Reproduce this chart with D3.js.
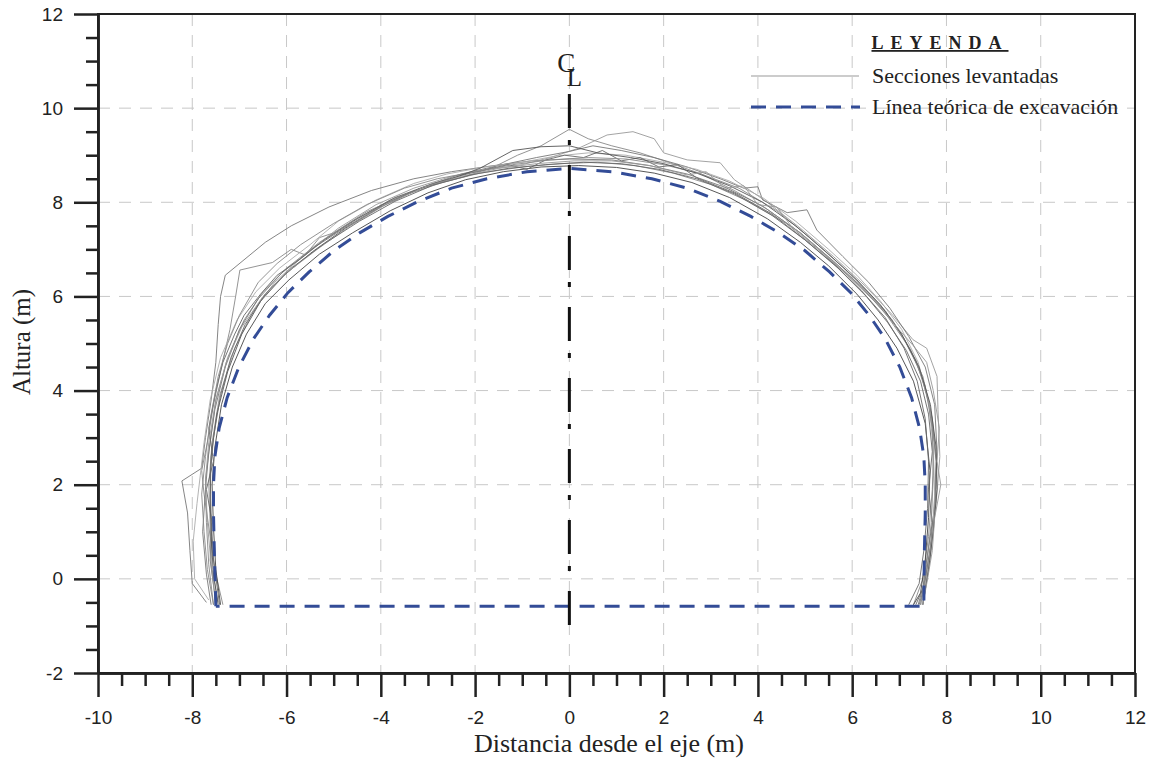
<!DOCTYPE html>
<html>
<head>
<meta charset="utf-8">
<script src="https://cdn.jsdelivr.net/npm/d3@7"></script>
<style>
  body { margin: 0; background: #fff; }
  .tick text { font-family: "Liberation Sans", Arial, sans-serif; font-size: 19px; fill: #222; }
  .axis path, .axis line { stroke: #222; stroke-width: 2.5; }
  .serif { font-family: "Liberation Serif", "Times New Roman", serif; fill: #222; }
</style>
</head>
<body>
<svg id="plot" width="1152" height="759"></svg>
<script>
// axis ticks
var xMajor = [-10, -8, -6, -4, -2, 0, 2, 4, 6, 8, 10, 12];
var yMajor = [-2, 0, 2, 4, 6, 8, 10, 12];
var minorStep = 0.5;

// theoretical excavation line
var theoretical = [
  [-7.5, -0.58], [-7.53, 0.5], [-7.55, 1.4], [-7.55, 2.0], [-7.52, 2.6], [-7.43, 3.2],
  [-7.26, 3.85], [-7.01, 4.5], [-6.7, 5.1], [-6.36, 5.6], [-5.97, 6.08], [-5.52, 6.52],
  [-5.0, 6.97], [-4.45, 7.35], [-3.85, 7.7], [-3.2, 8.02], [-2.5, 8.3], [-1.75, 8.5],
  [-0.9, 8.65], [0, 8.72], [0.9, 8.65], [1.75, 8.5], [2.5, 8.3], [3.2, 8.02],
  [3.85, 7.7], [4.45, 7.35], [5.0, 6.97], [5.52, 6.52], [5.97, 6.08], [6.36, 5.6],
  [6.7, 5.1], [7.01, 4.5], [7.26, 3.85], [7.43, 3.2], [7.52, 2.6], [7.55, 2.0],
  [7.55, 1.4], [7.53, 0.5], [7.52, -0.58], [-7.5, -0.58]
];

// surveyed sections
var s1 = [[-7.7,-0.5],[-8.0,-0.1],[-8.05,0.6],[-8.1,1.4],[-8.22,2.08],[-7.8,2.35],[-7.72,3.0],[-7.6,3.8],[-7.5,4.6],[-7.45,5.4],[-7.4,6.0],[-7.3,6.45],[-6.45,7.15],[-5.9,7.5],[-5.1,7.9],[-4.2,8.25],[-3.3,8.5],[-2.5,8.65],[-1.6,8.78],[-0.8,8.88],[0.0,8.92],[0.9,8.9],[1.7,8.78],[2.5,8.6],[3.3,8.32],[4.1,7.92],[4.9,7.35],[5.6,6.75],[6.2,6.2],[6.7,5.7],[7.1,5.1],[7.45,4.4],[7.68,3.5],[7.78,2.5],[7.74,1.5],[7.64,0.5],[7.52,-0.2],[7.42,-0.55]];
var s2 = [[-7.35,-0.55],[-7.5,0.1],[-7.62,0.9],[-7.75,1.8],[-7.8,2.3],[-7.68,2.9],[-7.55,3.7],[-7.38,4.5],[-7.2,5.3],[-7.08,6.0],[-6.99,6.56],[-6.3,6.72],[-5.9,7.0],[-5.6,6.88],[-5.3,7.25],[-5.0,7.35],[-4.3,7.8],[-3.5,8.15],[-2.7,8.42],[-1.9,8.62],[-1.0,8.75],[-0.2,8.82],[0.6,8.85],[1.4,8.78],[2.2,8.62],[3.0,8.38],[3.8,8.02],[4.6,7.55],[5.3,6.98],[5.9,6.45],[6.45,5.92],[6.95,5.35],[7.35,4.65],[7.62,3.8],[7.74,2.9],[7.7,1.9],[7.62,0.9],[7.5,0.0],[7.3,-0.55]];
var s3 = [[-7.55,-0.55],[-7.65,0.3],[-7.7,1.2],[-7.72,2.1],[-7.62,2.9],[-7.5,3.8],[-7.25,4.7],[-6.9,5.5],[-6.5,6.1],[-6.0,6.6],[-5.3,7.15],[-4.6,7.6],[-3.8,8.05],[-3.0,8.35],[-2.2,8.55],[-1.6,8.75],[-1.1,9.0],[-0.6,9.2],[0.0,9.55],[0.4,9.35],[0.9,9.2],[1.5,9.05],[2.1,8.85],[2.8,8.6],[3.5,8.25],[4.2,7.85],[4.9,7.35],[5.6,6.75],[6.2,6.2],[6.7,5.65],[7.15,5.0],[7.5,4.3],[7.7,3.4],[7.8,2.4],[7.75,1.4],[7.65,0.4],[7.5,-0.55]];
var s4 = [[-7.45,-0.5],[-7.58,0.2],[-7.62,1.1],[-7.65,2.0],[-7.58,2.9],[-7.42,3.9],[-7.1,4.9],[-6.7,5.7],[-6.25,6.3],[-5.6,6.9],[-4.9,7.45],[-4.1,7.95],[-3.3,8.3],[-2.5,8.55],[-1.7,8.7],[-1.0,8.8],[-0.4,8.95],[0.2,9.15],[0.8,9.43],[1.35,9.5],[1.8,9.35],[2.0,9.05],[2.5,8.9],[3.2,8.84],[3.5,8.48],[4.2,8.0],[4.9,7.45],[5.6,6.85],[6.3,6.2],[6.86,5.6],[7.29,5.08],[7.58,4.9],[7.8,4.3],[7.82,3.6],[7.86,2.6],[7.78,1.6],[7.65,0.6],[7.55,-0.1],[7.45,-0.55]];
var s5 = [[-7.6,-0.55],[-7.7,0.1],[-7.78,1.0],[-7.72,1.9],[-7.65,2.7],[-7.52,3.6],[-7.3,4.5],[-7.0,5.3],[-6.6,5.95],[-6.1,6.5],[-5.4,7.05],[-4.7,7.5],[-3.9,7.98],[-3.1,8.32],[-2.3,8.6],[-1.5,8.78],[-0.7,8.95],[0.0,9.08],[0.5,9.2],[1.1,9.1],[1.8,8.95],[2.5,8.75],[3.2,8.5],[3.7,8.3],[4.0,8.33],[4.1,8.05],[4.62,7.78],[5.04,7.84],[5.25,7.41],[5.8,6.85],[6.35,6.3],[6.8,5.75],[7.2,5.15],[7.55,4.5],[7.75,3.7],[7.8,2.7],[7.76,1.7],[7.68,0.8],[7.55,0.0],[7.4,-0.55]];
var s6 = [[-7.4,-0.55],[-7.5,0.2],[-7.55,1.1],[-7.58,2.0],[-7.52,2.8],[-7.38,3.7],[-7.15,4.5],[-6.85,5.2],[-6.45,5.85],[-5.95,6.35],[-5.3,6.9],[-4.6,7.35],[-3.8,7.82],[-3.0,8.2],[-2.2,8.48],[-1.4,8.65],[-0.6,8.75],[0.2,8.78],[1.0,8.74],[1.8,8.62],[2.6,8.42],[3.4,8.1],[4.2,7.65],[4.9,7.15],[5.5,6.65],[6.1,6.05],[6.55,5.5],[6.95,4.9],[7.3,4.2],[7.55,3.3],[7.65,2.3],[7.62,1.3],[7.55,0.4],[7.45,-0.3],[7.3,-0.55]];
var s7 = [[-7.65,-0.45],[-7.95,0.0],[-7.98,0.8],[-7.9,1.6],[-7.83,2.2],[-7.75,2.9],[-7.62,3.8],[-7.4,4.7],[-7.05,5.5],[-6.65,6.1],[-6.15,6.6],[-5.5,7.1],[-4.9,7.6],[-4.1,8.05],[-3.3,8.4],[-2.6,8.6],[-1.8,8.75],[-1.0,8.85],[-0.3,8.98],[0.4,9.05],[1.2,9.0],[2.0,8.85],[2.7,8.7],[3.4,8.45],[4.1,8.1],[4.8,7.6],[5.5,7.0],[6.1,6.45],[6.6,5.9],[7.05,5.3],[7.4,4.6],[7.62,3.8],[7.72,2.8],[7.75,1.8],[7.7,0.9],[7.6,0.1],[7.48,-0.55]];
var s8 = [[-7.5,-0.5],[-7.62,0.4],[-7.58,1.2],[-7.7,1.9],[-7.55,2.5],[-7.65,3.2],[-7.5,4.0],[-7.35,4.6],[-7.1,5.2],[-6.9,5.6],[-6.55,6.05],[-6.2,6.45],[-5.7,6.8],[-5.2,7.2],[-4.5,7.65],[-3.7,8.1],[-2.9,8.4],[-2.1,8.62],[-1.3,8.8],[-0.9,8.7],[-0.5,8.9],[-0.1,9.0],[0.3,8.95],[0.7,9.1],[1.1,8.88],[1.5,8.95],[1.9,8.75],[2.3,8.8],[2.7,8.52],[3.5,8.2],[4.3,7.75],[5.0,7.2],[5.7,6.6],[6.3,6.0],[6.75,5.45],[7.15,4.85],[7.45,4.2],[7.62,3.5],[7.7,2.7],[7.62,1.9],[7.7,1.2],[7.58,0.4],[7.5,-0.2],[7.35,-0.55]];
var s9 = [[-7.55,-0.55],[-7.68,0.2],[-7.75,1.0],[-7.8,1.8],[-7.72,2.6],[-7.6,3.5],[-7.45,4.3],[-7.25,5.0],[-7.0,5.6],[-6.6,6.3],[-6.2,6.7],[-5.7,7.1],[-5.0,7.55],[-4.3,7.95],[-3.5,8.3],[-2.8,8.5],[-2.0,8.65],[-1.2,8.8],[-0.4,8.9],[0.4,8.95],[1.2,8.92],[2.0,8.8],[2.8,8.6],[3.6,8.3],[4.4,7.82],[5.1,7.25],[5.8,6.62],[6.35,6.08],[6.85,5.5],[7.25,4.85],[7.55,4.1],[7.7,3.2],[7.72,2.2],[7.68,1.2],[7.58,0.3],[7.45,-0.55]];
var s10 = [[-7.45,-0.55],[-7.55,0.1],[-7.6,0.9],[-7.62,1.8],[-7.6,2.6],[-7.48,3.5],[-7.25,4.4],[-6.95,5.2],[-6.55,5.9],[-6.05,6.45],[-5.45,6.95],[-4.75,7.45],[-4.0,7.9],[-3.2,8.28],[-2.5,8.5],[-1.9,8.72],[-1.2,9.1],[-0.6,9.18],[0.0,9.2],[0.6,9.05],[1.3,8.95],[2.0,8.82],[2.7,8.62],[3.4,8.35],[4.1,8.0],[4.8,7.5],[5.5,6.9],[6.1,6.35],[6.6,5.82],[7.05,5.2],[7.42,4.5],[7.66,3.7],[7.78,2.8],[7.8,1.9],[7.72,1.0],[7.62,0.2],[7.5,-0.55]];
var s11 = [[-7.5,-0.55],[-7.6,0.3],[-7.68,1.2],[-7.72,2.1],[-7.65,2.9],[-7.5,3.8],[-7.28,4.6],[-6.95,5.35],[-6.5,6.0],[-6.0,6.5],[-5.35,7.0],[-4.65,7.5],[-3.9,7.95],[-3.1,8.32],[-2.3,8.55],[-1.5,8.72],[-0.7,8.82],[0.1,8.88],[0.9,8.88],[1.7,8.78],[2.5,8.58],[2.9,8.65],[3.3,8.3],[3.7,8.35],[4.0,7.95],[4.4,7.9],[4.7,7.5],[5.3,7.0],[5.9,6.45],[6.45,5.95],[6.9,5.4],[7.3,4.95],[7.58,4.6],[7.72,4.0],[7.85,3.2],[7.8,2.5],[7.88,2.0],[7.75,1.3],[7.7,0.6],[7.6,0.0],[7.5,-0.55]];
var s12 = [[-7.42,-0.55],[-7.55,0.4],[-7.6,1.3],[-7.62,2.2],[-7.55,3.0],[-7.4,3.9],[-7.18,4.7],[-6.88,5.4],[-6.45,6.05],[-5.9,6.6],[-5.2,7.12],[-4.45,7.6],[-3.7,8.02],[-2.9,8.36],[-2.1,8.58],[-1.3,8.72],[-0.5,8.8],[0.3,8.85],[1.1,8.82],[1.9,8.7],[2.7,8.5],[3.5,8.18],[4.3,7.72],[5.0,7.2],[5.6,6.7],[6.2,6.12],[6.7,5.55],[7.1,4.9],[7.38,4.2],[7.55,3.4],[7.62,2.5],[7.6,1.5],[7.52,0.6],[7.42,-0.1],[7.2,-0.55]];
var sections = [s1, s2, s3, s4, s5, s6, s7, s8, s9, s10, s11, s12];
var sectionGrays = ['#777', '#888', '#888', '#999', '#777', '#444', '#aaa', '#666', '#888', '#555', '#999', '#666'];

// centre line extent
var clTop = 10.3, clBottom = -1.05;

var svg = d3.select('#plot');
var width = +svg.attr('width');
var height = +svg.attr('height');
var padLeft = 98, padRight = 1135, padTop = 14, padBottom = 673;

var x = d3.scaleLinear().domain([-10, 12]).range([padLeft, padRight]);
var y = d3.scaleLinear().domain([-2, 12]).range([padBottom, padTop]);

var minorX = d3.range(-10, 12.001, minorStep).filter(function (d) { return xMajor.indexOf(d) < 0; });
var minorY = d3.range(-2, 12.001, minorStep).filter(function (d) { return yMajor.indexOf(d) < 0; });

svg.append('rect').attr('width', width).attr('height', height).attr('fill', '#fff');

// grid
svg.append('g').selectAll('line').data(xMajor.slice(1, -1)).enter().append('line')
  .attr('x1', function (d) { return x(d); }).attr('x2', function (d) { return x(d); })
  .attr('y1', padTop).attr('y2', padBottom)
  .attr('stroke', '#c8c8c8').attr('stroke-width', 1).attr('stroke-dasharray', '12,9');
svg.append('g').selectAll('line').data(yMajor.slice(1, -1)).enter().append('line')
  .attr('y1', function (d) { return y(d); }).attr('y2', function (d) { return y(d); })
  .attr('x1', padLeft).attr('x2', padRight)
  .attr('stroke', '#c8c8c8').attr('stroke-width', 1).attr('stroke-dasharray', '12,9');

// surveyed sections
var pathGen = d3.line().x(function (d) { return x(d[0]); }).y(function (d) { return y(d[1]); });
svg.append('g').selectAll('path').data(sections).enter().append('path')
  .attr('d', pathGen)
  .attr('fill', 'none')
  .attr('stroke', function (d, i) { return sectionGrays[i]; })
  .attr('stroke-width', 0.9)
  .attr('stroke-linejoin', 'round');

// theoretical line
svg.append('path').datum(theoretical)
  .attr('d', pathGen)
  .attr('fill', 'none')
  .attr('stroke', '#334c97')
  .attr('stroke-width', 3)
  .attr('stroke-dasharray', '15,10');

// centre line
svg.append('line')
  .attr('x1', x(0)).attr('x2', x(0))
  .attr('y1', y(clTop)).attr('y2', y(clBottom))
  .attr('stroke', '#111').attr('stroke-width', 3)
  .attr('stroke-dasharray', '34,12,5,20');
svg.append('text').attr('class', 'serif').attr('x', x(0) - 3).attr('y', 72)
  .attr('text-anchor', 'middle').style('font-size', '27px').text('C');
svg.append('text').attr('class', 'serif').attr('x', x(0) + 5).attr('y', 86)
  .attr('text-anchor', 'middle').style('font-size', '25px').text('L');

// frame
svg.append('rect')
  .attr('x', padLeft).attr('y', padTop).attr('width', padRight - padLeft).attr('height', padBottom - padTop)
  .attr('fill', 'none').attr('stroke', '#222').attr('stroke-width', 2);

// axes
svg.append('g').attr('class', 'axis')
  .attr('transform', 'translate(0,' + padBottom + ')')
  .call(d3.axisBottom(x).tickValues(minorX).tickSize(13).tickSizeOuter(0).tickFormat(''));
svg.append('g').attr('class', 'axis')
  .attr('transform', 'translate(0,' + padBottom + ')')
  .call(d3.axisBottom(x).tickValues(xMajor).tickSize(24).tickSizeOuter(0).tickPadding(14)
    .tickFormat(function (d) { return String(d); }));
svg.append('g').attr('class', 'axis')
  .attr('transform', 'translate(' + padLeft + ',0)')
  .call(d3.axisLeft(y).tickValues(minorY).tickSize(12).tickSizeOuter(0).tickFormat(''));
svg.append('g').attr('class', 'axis')
  .attr('transform', 'translate(' + padLeft + ',0)')
  .call(d3.axisLeft(y).tickValues(yMajor).tickSize(24).tickSizeOuter(0).tickPadding(11)
    .tickFormat(function (d) { return String(d); }));

// axis titles
svg.append('text').attr('class', 'serif')
  .attr('x', 609).attr('y', 752)
  .attr('text-anchor', 'middle').style('font-size', '26px')
  .text('Distancia desde el eje (m)');
svg.append('text').attr('class', 'serif')
  .attr('transform', 'translate(30,342) rotate(-90)')
  .attr('text-anchor', 'middle').style('font-size', '25px')
  .text('Altura (m)');

// legend
var legend = svg.append('g');
legend.append('text').attr('class', 'serif')
  .attr('x', 940).attr('y', 49).attr('text-anchor', 'middle')
  .style('font-size', '18px').style('font-weight', 'bold').style('letter-spacing', '7px')
  .style('text-decoration', 'underline')
  .text('LEYENDA');
legend.append('line').attr('x1', 751).attr('x2', 859).attr('y1', 76).attr('y2', 76)
  .attr('stroke', '#999').attr('stroke-width', 1);
legend.append('text').attr('class', 'serif').attr('x', 872).attr('y', 83)
  .style('font-size', '22px').text('Secciones levantadas');
legend.append('line').attr('x1', 751).attr('x2', 860).attr('y1', 107).attr('y2', 107)
  .attr('stroke', '#334c97').attr('stroke-width', 3).attr('stroke-dasharray', '15,10');
legend.append('text').attr('class', 'serif').attr('x', 872).attr('y', 114)
  .style('font-size', '22px').text('Línea teórica de excavación');
</script>
</body>
</html>
